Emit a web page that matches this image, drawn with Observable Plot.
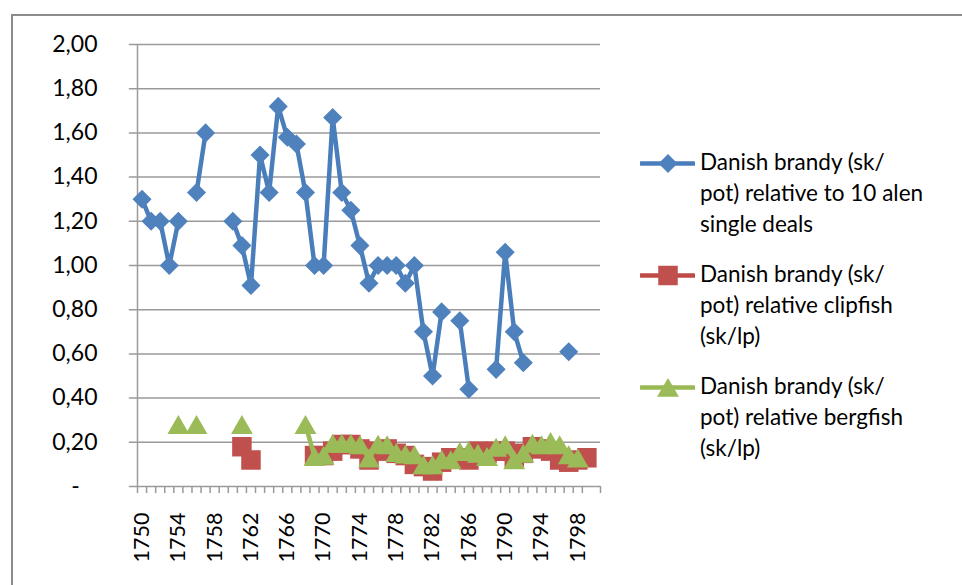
<!DOCTYPE html>
<html>
<head>
<meta charset="utf-8">
<script src="https://cdn.jsdelivr.net/npm/d3@7"></script>
<script src="https://cdn.jsdelivr.net/npm/@observablehq/plot@0.6"></script>
<style>
  html, body { margin: 0; padding: 0; background: #fff; }
  #wrap { position: relative; width: 962px; height: 585px; overflow: hidden; font-family: Lato, "Open Sans", sans-serif; }
  #frame { position: absolute; left: 11px; top: 14px; width: 1000px; height: 1000px; border-top: 2px solid #8c8c8c; border-left: 2px solid #8c8c8c; }
  #chart { position: absolute; left: 0; top: 0; }
  #legend { position: absolute; left: 640px; top: 146px; }
  .item { display: flex; align-items: flex-start; margin-bottom: 19px; }
  .item svg { flex: none; margin-top: 6px; margin-right: 5px; }
  .item div { font-size: 22.5px; line-height: 31px; color: #000; width: 280px; }
</style>
</head>
<body>
<div id="wrap">
  <div id="frame"></div>
  <div id="chart"></div>
  <div id="legend"></div>
</div>
<script>
const years = [1750,1751,1752,1753,1754,1755,1756,1757,1758,1759,
               1760,1761,1762,1763,1764,1765,1766,1767,1768,1769,
               1770,1771,1772,1773,1774,1775,1776,1777,1778,1779,
               1780,1781,1782,1783,1784,1785,1786,1787,1788,1789,
               1790,1791,1792,1793,1794,1795,1796,1797,1798,1799];

const singleDeals = [1.30,1.20,1.20,1.00,1.20,null,1.33,1.60,null,null,
                     1.20,1.09,0.91,1.50,1.33,1.72,1.58,1.55,1.33,1.00,
                     1.00,1.67,1.33,1.25,1.09,0.92,1.00,1.00,1.00,0.92,
                     1.00,0.70,0.50,0.79,null,0.75,0.44,null,null,0.53,
                     1.06,0.70,0.56,null,null,null,null,0.61,null,null];

const clipfish = [null,null,null,null,null,null,null,null,null,null,
                  null,0.18,0.12,null,null,null,null,null,null,0.14,
                  0.14,0.16,0.19,0.19,0.17,0.12,0.16,0.17,0.15,0.14,
                  0.10,0.09,0.07,0.11,0.13,0.13,0.12,0.16,0.15,0.16,
                  0.16,0.13,0.15,0.18,0.17,0.16,0.12,0.11,0.12,0.13];

const bergfish = [null,null,null,null,0.28,null,0.28,null,null,null,
                  null,0.28,null,null,null,null,null,null,0.28,0.135,
                  0.14,0.195,0.195,0.195,0.188,0.128,0.191,0.188,0.153,0.146,
                  0.143,0.098,0.098,0.123,0.12,0.158,0.162,0.15,0.135,0.177,
                  0.188,0.12,0.15,0.195,0.188,0.203,0.188,0.143,0.128,null];

const seriesNames = [
  "Danish brandy (sk/ pot) relative to 10 alen single deals",
  "Danish brandy (sk/ pot) relative clipfish (sk/lp)",
  "Danish brandy (sk/ pot) relative bergfish (sk/lp)"
];
const yTicks = [0,0.2,0.4,0.6,0.8,1.0,1.2,1.4,1.6,1.8,2.0];
const xLabelYears = [1750,1754,1758,1762,1766,1770,1774,1778,1782,1786,1790,1794,1798];

const lineColors = ["#4a7ebb", "#be4b48", "#98b954"];
const markColors = ["#4f81bd", "#c0504d", "#9bbb59"];
const symbols = ["diamond2", "square", "triangle"];
const sizes = [8.6, 11, 8.1];
const dys = [0, 0, 3];

const values = [singleDeals, clipfish, bergfish];
const tables = values.map(v => years.map((yr, i) => ({year: yr, value: v[i]})));

const boundaries = years.map(y => y - 0.5).concat([1800.5]);

const fmt = d => d === 0 ? "-\u00a0\u00a0\u00a0" : d.toFixed(2).replace(".", ",");

const marks = [
  Plot.gridY(yTicks, {stroke: "#9a9a9a", strokeOpacity: 1, strokeWidth: 1.5, x1: 1748.6, x2: 1800.5}),
  Plot.axisY(yTicks, {tickSize: 0, tickPadding: 40, tickFormat: fmt, fontSize: 23, fill: "#000", label: null}),
  Plot.ruleX([1749.5], {stroke: "#9a9a9a", strokeWidth: 1.5}),
  Plot.axisX(boundaries, {tickSize: 7, tickFormat: () => "", stroke: "#9a9a9a", strokeWidth: 1.5, label: null}),
  Plot.axisX(xLabelYears, {tickSize: 0, tickPadding: 26, tickRotate: -90, tickFormat: d => String(d), fontSize: 21.5, fill: "#000", label: null})
];

tables.forEach((t, k) => {
  marks.push(Plot.line(t, {x: "year", y: "value", stroke: lineColors[k], strokeWidth: 4.5, curve: "linear"}));
  marks.push(Plot.dot(t.filter(d => d.value != null), {x: "year", y: "value", symbol: () => symbols[k], r: sizes[k], fill: markColors[k], stroke: "none", dy: dys[k]}));
});

const chart = Plot.plot({
  width: 962,
  height: 585,
  marginLeft: 137,
  marginRight: 362,
  marginTop: 44,
  marginBottom: 99,
  style: {fontFamily: "Lato, 'Open Sans', sans-serif", background: "transparent"},
  x: {type: "linear", domain: [1749.5, 1800.5], axis: null, label: null},
  y: {domain: [0, 2], axis: null, label: null},
  symbol: {type: "identity"},
  marks
});
document.getElementById("chart").appendChild(chart);

// legend
const legend = document.getElementById("legend");
const legendLines = [
  ["Danish brandy (sk/", "pot) relative to 10 alen", "single deals"],
  ["Danish brandy (sk/", "pot) relative clipfish", "(sk/lp)"],
  ["Danish brandy (sk/", "pot) relative bergfish", "(sk/lp)"]
];
legendLines.forEach((lines, k) => {
  const item = document.createElement("div");
  item.className = "item";
  const sw = Plot.plot({
    width: 55, height: 22, margin: 0,
    x: {domain: [0, 1], axis: null}, y: {domain: [0, 1], axis: null},
    style: {background: "transparent"},
    marks: [
      Plot.ruleY([0.5], {x1: 0.02, x2: 0.98, stroke: lineColors[k], strokeWidth: 4.5, strokeLinecap: "round"}),
      Plot.dot([0.5], {x: 0.5, y: 0.5, symbol: symbols[k], r: sizes[k], fill: markColors[k], dy: dys[k]})
    ]
  });
  item.appendChild(sw);
  const txt = document.createElement("div");
  txt.innerHTML = lines.join("<br>");
  txt.setAttribute("aria-label", seriesNames[k]);
  item.appendChild(txt);
  legend.appendChild(item);
});
</script>
</body>
</html>
